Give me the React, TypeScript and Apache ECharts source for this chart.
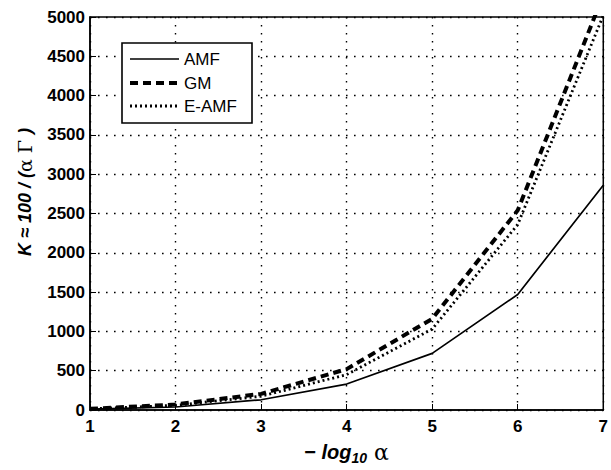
import React, { useEffect, useRef } from "react";
import * as echarts from "echarts";

const xValues = [1, 2, 3, 4, 5, 6, 7];
const amf = [12, 38, 130, 330, 720, 1470, 2860];
const gm = [15, 70, 205, 520, 1160, 2540, 5280];
const eamf = [14, 60, 175, 450, 1030, 2360, 5020];
const yTicks = [0, 500, 1000, 1500, 2000, 2500, 3000, 3500, 4000, 4500, 5000];
const seriesNames = ["AMF", "GM", "E-AMF"];

const FONT = "'Liberation Sans', Arial, sans-serif";

const styles = [
  { width: 1.7, type: "solid" as any, dash: null as number[] | null },
  { width: 4, type: [8, 5], dash: [8, 5] },
  { width: 2.8, type: [2, 3], dash: [2, 3] },
];

export default function App() {
  const ref = useRef<HTMLDivElement>(null);
  useEffect(() => {
    if (!ref.current) return;
    const chart = echarts.init(ref.current, undefined, { renderer: "svg" });
    const mk = (arr: number[]) => xValues.map((x, i) => [x, arr[i]]);
    const legendTop = 43;
    const legendRows = [59, 83, 106];
    const legendGraphics: any[] = [
      {
        type: "rect",
        shape: { x: 122, y: legendTop, width: 130, height: 80 },
        style: { fill: "#fff", stroke: "#000", lineWidth: 1.6 },
        z: 100,
      },
    ];
    seriesNames.forEach((n, i) => {
      legendGraphics.push({
        type: "line",
        shape: { x1: 130, y1: legendRows[i], x2: 179, y2: legendRows[i] },
        style: {
          stroke: "#000",
          lineWidth: styles[i].width,
          lineDash: styles[i].dash || undefined,
        },
        z: 101,
      });
      legendGraphics.push({
        type: "text",
        x: 184,
        y: legendRows[i],
        style: {
          text: n,
          fontSize: 17,
          fontFamily: FONT,
          fill: "#000",
          verticalAlign: "middle",
          align: "left",
        },
        z: 101,
      });
    });
    const gridDots = { color: "#000", type: [1.6, 6.4], width: 1.4 };
    chart.setOption({
      animation: false,
      backgroundColor: "#fff",
      textStyle: { fontFamily: FONT },
      grid: {
        left: 90,
        right: 7,
        top: 17,
        bottom: 57,
        show: true,
        borderColor: "#000",
        borderWidth: 1.5,
        backgroundColor: "transparent",
      },
      graphic: [
        ...legendGraphics,
        {
          type: "text",
          x: 25,
          y: 192,
          rotation: Math.PI / 2,
          style: {
            text: "{i|K ≈ 100 / (}{g|α Γ }{i|)}",
            align: "center",
            verticalAlign: "middle",
            rich: {
              i: { fontSize: 18, fontWeight: "bold", fontStyle: "italic", fontFamily: FONT, fill: "#000" },
              g: { fontSize: 19, fontFamily: "'DejaVu Serif', serif", fill: "#000" },
            },
          },
        },
      ],
      xAxis: {
        type: "value",
        min: 1,
        max: 7,
        interval: 1,
        name: "{b|− }{i|log}{s|10}{g| α}",
        nameLocation: "middle",
        nameGap: 29,
        nameTextStyle: {
          rich: {
            b: { fontSize: 20, fontWeight: "bold", fontFamily: FONT, color: "#000" },
            i: { fontSize: 20, fontWeight: "bold", fontStyle: "italic", fontFamily: FONT, color: "#000" },
            s: { fontSize: 14, fontWeight: "bold", fontStyle: "italic", fontFamily: FONT, color: "#000", padding: [12, 0, 0, 0] },
            g: { fontSize: 22, fontFamily: "'DejaVu Serif', serif", color: "#000" },
          },
        },
        axisLine: { show: true, lineStyle: { color: "#000", width: 1.5 } },
        axisTick: { show: true, inside: true, length: 6, lineStyle: { color: "#000" } },
        axisLabel: { fontSize: 17, fontWeight: "bold", color: "#000", margin: 8, fontFamily: FONT },
        splitLine: { show: true, lineStyle: gridDots },
      },
      yAxis: {
        type: "value",
        min: 0,
        max: 5000,
        interval: 500,
        axisLine: { show: true, lineStyle: { color: "#000", width: 1.5 } },
        axisTick: { show: true, inside: true, length: 6, lineStyle: { color: "#000" } },
        axisLabel: {
          fontSize: 17,
          fontWeight: "bold",
          color: "#000",
          margin: 5,
          fontFamily: FONT,
          formatter: (v: number) => (yTicks.includes(v) ? String(v) : ""),
        },
        splitLine: { show: true, lineStyle: gridDots },
      },
      series: [amf, gm, eamf].map((arr, i) => ({
        name: seriesNames[i],
        type: "line",
        data: mk(arr),
        symbol: "none",
        clip: true,
        lineStyle: { color: "#000", width: styles[i].width, type: styles[i].type },
        itemStyle: { color: "#000" },
      })),
    });
    return () => chart.dispose();
  }, []);
  return <div ref={ref} style={{ width: 611, height: 470, position: "absolute", left: 0, top: 0 }} />;
}
